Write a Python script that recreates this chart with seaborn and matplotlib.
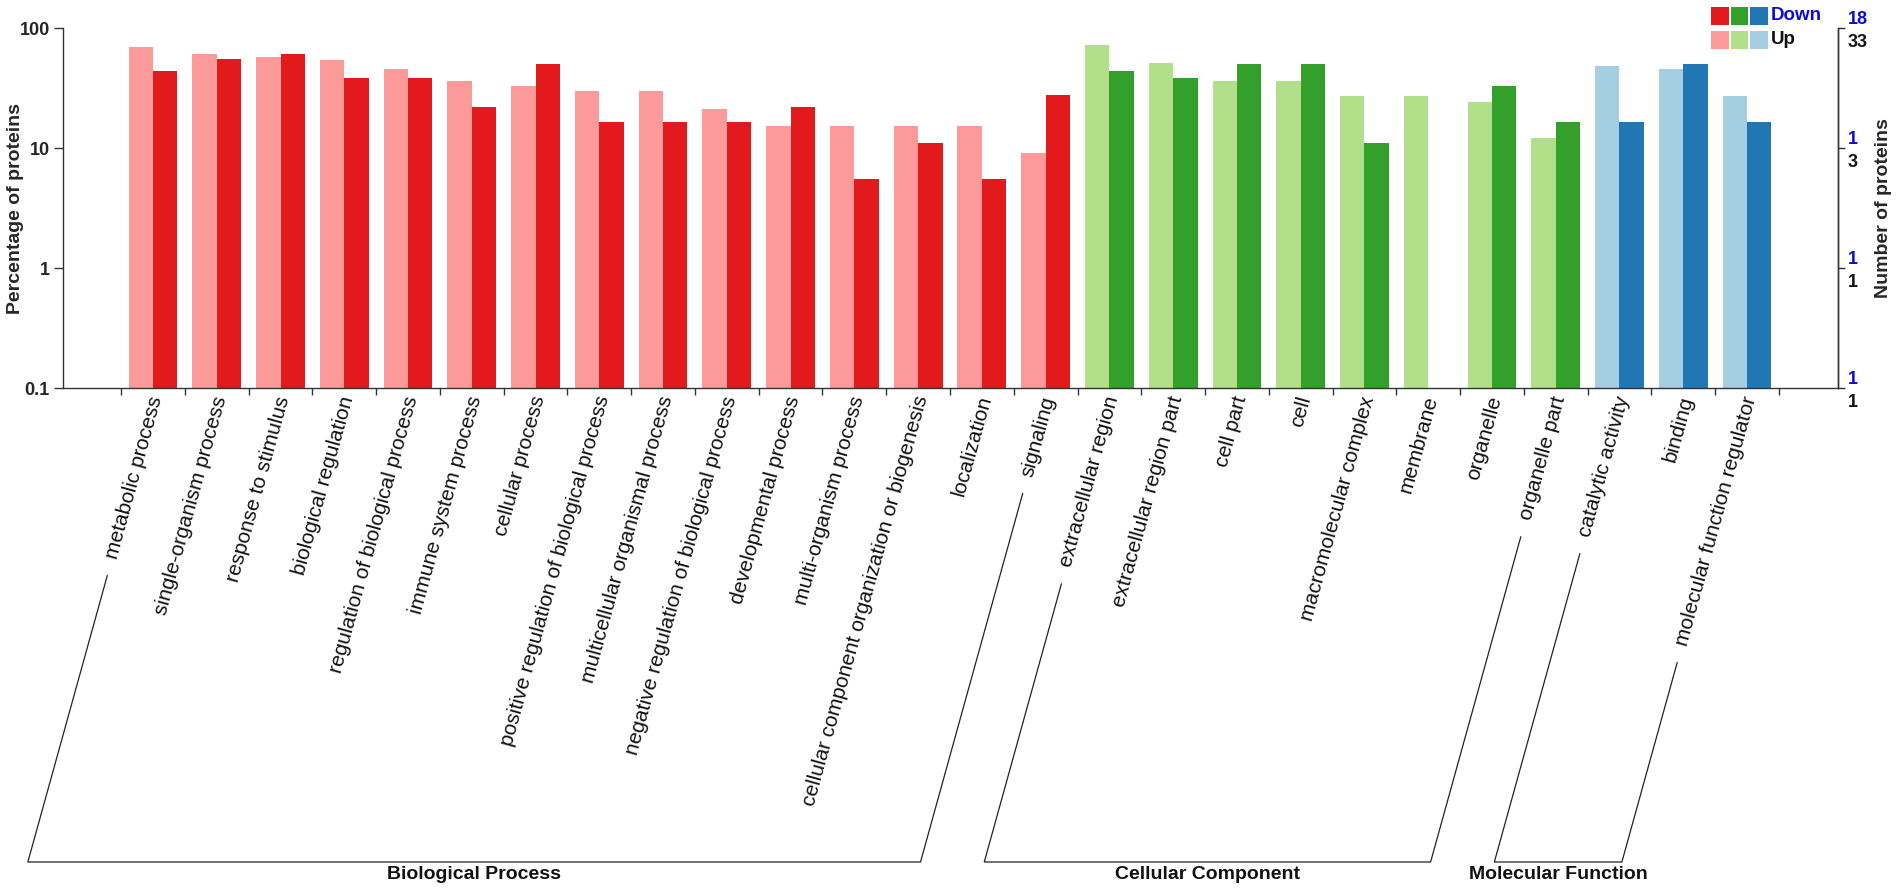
import numpy as np
import pandas as pd
import matplotlib
matplotlib.use("Agg")
import matplotlib.pyplot as plt
import seaborn as sns
from matplotlib.transforms import ScaledTranslation
from matplotlib.lines import Line2D
from matplotlib.patches import Rectangle
from matplotlib.ticker import NullLocator, NullFormatter

# ---------------- data ----------------
terms = [
    "metabolic process", "single-organism process", "response to stimulus",
    "biological regulation", "regulation of biological process",
    "immune system process", "cellular process",
    "positive regulation of biological process",
    "multicellular organismal process",
    "negative regulation of biological process", "developmental process",
    "multi-organism process", "cellular component organization or biogenesis",
    "localization", "signaling",
    "extracellular region", "extracellular region part", "cell part", "cell",
    "macromolecular complex", "membrane", "organelle", "organelle part",
    "catalytic activity", "binding", "molecular function regulator",
]
group_names = ["Biological Process", "Cellular Component", "Molecular Function"]
group_sizes = [15, 8, 3]

up_pct = [69.7, 60.6, 57.6, 54.5, 45.5, 36.4, 33.3, 30.3, 30.3, 21.2, 15.2,
          15.2, 15.2, 15.2, 9.1,
          72.7, 51.5, 36.4, 36.4, 27.3, 27.3, 24.2, 12.1,
          48.5, 45.5, 27.3]
down_pct = [44.4, 55.6, 61.1, 38.9, 38.9, 22.2, 50.0, 16.7, 16.7, 16.7, 22.2,
            5.6, 11.1, 5.6, 27.8,
            44.4, 38.9, 50.0, 50.0, 11.1, np.nan, 33.3, 16.7,
            16.7, 50.0, 16.7]

y_ticks = [0.1, 1, 10, 100]
y_tick_labels = ["0.1", "1", "10", "100"]
right_down_labels = ["1", "1", "1", "18"]
right_up_labels = ["1", "1", "3", "33"]

group_light = ["#FB9A99", "#B2DF8A", "#A6CEE3"]
group_dark = ["#E31A1C", "#33A02C", "#1F78B4"]
blue_txt = "#0A0ADC"
axis_col = "#333333"

# ---------------- style ----------------
sns.set_style("ticks")
plt.rcParams["font.family"] = ["Liberation Sans", "DejaVu Sans"]

W, H = 1902, 893
fig = plt.figure(figsize=(W / 100, H / 100), dpi=100)
ax = fig.add_axes([62.7 / W, 1 - 388.3 / H, (1838 - 62.7) / W, 360 / H])

rows = []
start = 0
for g, n in zip(group_names, group_sizes):
    for i in range(start, start + n):
        rows.append((terms[i], "Up", up_pct[i], g))
        if not np.isnan(down_pct[i]):
            rows.append((terms[i], "Down", down_pct[i], g))
    start += n
df = pd.DataFrame(rows, columns=["term", "reg", "pct", "group"])

for g, lc, dc in zip(group_names, group_light, group_dark):
    sns.barplot(data=df[df["group"] == g], x="term", y="pct", hue="reg",
                order=terms, hue_order=["Up", "Down"],
                palette={"Up": lc, "Down": dc}, width=0.765, saturation=1,
                errorbar=None, legend=False, linewidth=0, ax=ax)

n = len(terms)
ax.set_yscale("log")
ax.set_ylim(0.1, 100)
ax.set_xlim(-1.416, n - 1 + 1.427)

# y axis (left)
ax.set_yticks(y_ticks, labels=y_tick_labels)
ax.yaxis.set_minor_locator(NullLocator())
ax.tick_params(axis="y", which="major", length=6.5, width=1, pad=2.7,
               labelsize=13, color=axis_col, direction="out")
for lbl in ax.get_yticklabels():
    lbl.set_fontweight("bold")

# x axis: ticks at boundaries, labels at centers
bounds = np.arange(-0.5, n, 1.0)
ax.set_xticks(bounds, labels=[""] * len(bounds))
ax.set_xticks(np.arange(n), labels=terms, minor=True)
ax.tick_params(axis="x", which="major", length=5, width=1, color=axis_col,
               direction="out")
ax.tick_params(axis="x", which="minor", length=0, pad=5.8, labelsize=15)
ROT = 74.5
for lbl in ax.get_xticklabels(minor=True):
    lbl.set_rotation(ROT)
    lbl.set_ha("right")
    lbl.set_va("center")
    lbl.set_rotation_mode("anchor")
    lbl.set_color("#111111")
    lbl.set_transform(lbl.get_transform() +
                      ScaledTranslation(0.04, 0, fig.dpi_scale_trans))

for s in ["left", "bottom", "right"]:
    ax.spines[s].set_color(axis_col)
    ax.spines[s].set_linewidth(1.0)
ax.spines["top"].set_visible(False)
ax.set_xlabel("")
ax.set_ylabel("Percentage of proteins", fontsize=14, fontweight="bold")
ax.yaxis.set_label_coords((15.5 - 62.7) / (1838 - 62.7), 0.5)
ax.yaxis.label.set_va("center")
ax.yaxis.label.set_ha("center")

# right axis: Down counts (blue, above) and Up counts (black, below)
ax2 = ax.twinx()
ax2.set_yscale("log")
ax2.set_ylim(0.1, 100)
ax2.set_yticks(y_ticks, labels=right_down_labels)
ax2.yaxis.set_minor_locator(NullLocator())
ax2.tick_params(axis="y", length=5, width=1, pad=2.2, labelsize=13,
                labelcolor=blue_txt, color=axis_col)
for lbl in ax2.get_yticklabels():
    lbl.set_fontweight("bold")
    lbl.set_transform(lbl.get_transform() +
                      ScaledTranslation(0, 0.11, fig.dpi_scale_trans))
for s in ["top", "left", "bottom"]:
    ax2.spines[s].set_visible(False)
ax2.spines["right"].set_color(axis_col)
ax2.spines["right"].set_linewidth(1.0)
ax2.set_ylabel("Number of proteins", fontsize=14, fontweight="bold",
               rotation=90)
ax2.yaxis.set_label_coords((1884 - 62.7) / (1838 - 62.7), 0.5)
ax2.yaxis.label.set_va("center")
ax2.yaxis.label.set_ha("center")

ax3 = ax.twinx()
ax3.set_yscale("log")
ax3.set_ylim(0.1, 100)
ax3.set_yticks(y_ticks, labels=right_up_labels)
ax3.yaxis.set_minor_locator(NullLocator())
ax3.tick_params(axis="y", length=0, pad=7.2, labelsize=13,
                labelcolor="#111111")
for lbl in ax3.get_yticklabels():
    lbl.set_fontweight("bold")
    lbl.set_transform(lbl.get_transform() +
                      ScaledTranslation(0, -0.12, fig.dpi_scale_trans))
for s in ax3.spines.values():
    s.set_visible(False)

# legend (three swatches per row)
sw_x = [1711, 1730.5, 1750]
sw_w = 17.5
for cols, (ytop, ybot), txt, tcol, ty in [
        (group_dark, (7, 25), "Down", blue_txt, 16),
        (group_light, (31, 49), "Up", "#111111", 40)]:
    for x0, c in zip(sw_x, cols):
        fig.add_artist(Rectangle((x0 / W, 1 - ybot / H), sw_w / W,
                                 (ybot - ytop) / H, transform=fig.transFigure,
                                 facecolor=c, edgecolor="none"))
    fig.text(1771 / W, 1 - ty / H, txt, color=tcol, fontsize=13.5,
             fontweight="bold", ha="left", va="center")

# group brackets following the label direction
fig.canvas.draw()
renderer = fig.canvas.get_renderer()
labels = ax.get_xticklabels(minor=True)
c, s = np.cos(np.deg2rad(ROT)), np.sin(np.deg2rad(ROT))
gap = 18.0
y_br = H - 862.0


def bracket_points(lbl):
    axp, ayp = lbl.get_transform().transform(lbl.get_position())
    w, h, d = renderer.get_text_width_height_descent(
        lbl.get_text(), lbl.get_fontproperties(), ismath=False)
    p0 = np.array([axp - (w + gap) * c, ayp - (w + gap) * s])
    t = (p0[1] - y_br) / s
    p1 = p0 - t * np.array([c, s])
    return p0, p1


inv = fig.transFigure.inverted()
start = 0
for g, nn in zip(group_names, group_sizes):
    a0, a1 = bracket_points(labels[start])
    b0, b1 = bracket_points(labels[start + nn - 1])
    pts = inv.transform(np.array([a0, a1, b1, b0]))
    fig.add_artist(Line2D(pts[:, 0], pts[:, 1], transform=fig.transFigure,
                          color="#222222", linewidth=0.9))
    cx = (a1[0] + b1[0]) / 2
    fig.text(cx / W, (y_br - 4) / H, g, ha="center", va="top",
             fontsize=14, fontweight="bold", color="#111111")
    start += nn

fig.savefig("out.png", dpi=100)
